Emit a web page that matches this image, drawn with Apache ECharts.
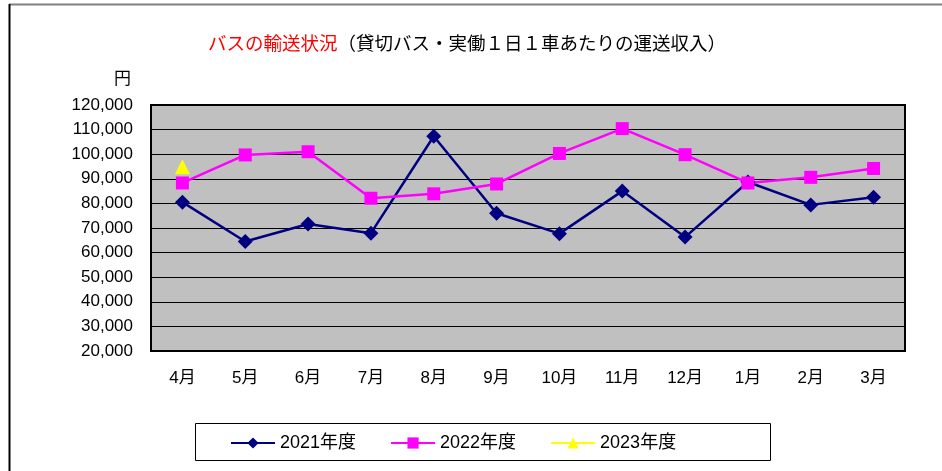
<!DOCTYPE html>
<html>
<head>
<meta charset="utf-8">
<script src="https://cdn.jsdelivr.net/npm/echarts@6/dist/echarts.min.js"></script>
<style>html,body{margin:0;padding:0;background:#fff;}#c{width:942px;height:471px;}</style>
</head>
<body>
<div id="c"></div>
<script>
var categories = ['4月','5月','6月','7月','8月','9月','10月','11月','12月','1月','2月','3月'];
var fy2021 = [80500, 64500, 71600, 67900, 107300, 76000, 67700, 85000, 66300, 88700, 79400, 82500];
var fy2022 = [88300, 99700, 101000, 82100, 83900, 87900, 100300, 110400, 99800, 88300, 90600, 94200];
var fy2023 = [94900, null, null, null, null, null, null, null, null, null, null, null];
var seriesNames = ['2021年度', '2022年度', '2023年度'];

var FONT = '"Liberation Sans", "Noto Sans CJK JP", sans-serif';
var chart = echarts.init(document.getElementById('c'), null, {renderer: 'canvas'});
chart.setOption({
  animation: false,
  backgroundColor: '#fff',
  textStyle: {fontFamily: FONT},
  title: {
    text: '{a|バスの輸送状況}{b|（貸切バス・実働１日１車あたりの運送収入）}',
    left: 462, top: 31, textAlign: 'center',
    textStyle: {
      fontWeight: 'normal',
      rich: {
        a: {color: '#FF0000', fontSize: 18.5, fontWeight: 'normal', fontFamily: FONT},
        b: {color: '#000000', fontSize: 18.5, fontWeight: 'normal', fontFamily: FONT}
      }
    }
  },
  graphic: [
    {type: 'line', shape: {x1: 9, y1: 4.5, x2: 942, y2: 4.5}, style: {stroke: '#808080', lineWidth: 2}},
    {type: 'line', shape: {x1: 9.5, y1: 4, x2: 9.5, y2: 471}, style: {stroke: '#000', lineWidth: 2}},
    {type: 'rect', shape: {x: 195.5, y: 423.5, width: 575, height: 37}, style: {fill: '#fff', stroke: '#000', lineWidth: 1}, z: 0},
    {type: 'text', left: 114, top: 71, style: {text: '円', fontSize: 17, fill: '#000', fontFamily: FONT}}
  ],
  legend: {
    left: 225, top: 429,
    itemWidth: 44, itemHeight: 14, itemGap: 34,
    textStyle: {fontSize: 18, color: '#000', fontFamily: FONT},
    data: seriesNames,
    z: 5
  },
  grid: {
    left: 151, right: 37, top: 105, bottom: 120,
    show: true, backgroundColor: '#C0C0C0', borderColor: '#000', borderWidth: 2
  },
  xAxis: {
    type: 'category', data: categories, boundaryGap: true,
    axisLine: {show: false}, axisTick: {show: false},
    axisLabel: {fontSize: 17, color: '#000', margin: 19, fontFamily: FONT}
  },
  yAxis: {
    type: 'value', min: 20000, max: 120000, interval: 10000,
    axisLine: {show: false}, axisTick: {show: false},
    splitLine: {lineStyle: {color: '#000', width: 1}},
    axisLabel: {fontSize: 17, color: '#000', margin: 18, fontFamily: FONT,
      formatter: function(v){ return v.toLocaleString('en-US'); }}
  },
  series: [
    {name: seriesNames[0], type: 'line', data: fy2021, symbol: 'diamond', symbolSize: 15,
      lineStyle: {color: '#000080', width: 2.5}, itemStyle: {color: '#000080'}},
    {name: seriesNames[1], type: 'line', data: fy2022, symbol: 'rect', symbolSize: 13,
      lineStyle: {color: '#FF00FF', width: 2.5}, itemStyle: {color: '#FF00FF'}},
    {name: seriesNames[2], type: 'line', data: fy2023, symbol: 'triangle', symbolSize: 15,
      lineStyle: {color: '#FFFF00', width: 2.5}, itemStyle: {color: '#FFFF00'}}
  ]
});
</script>
</body>
</html>
